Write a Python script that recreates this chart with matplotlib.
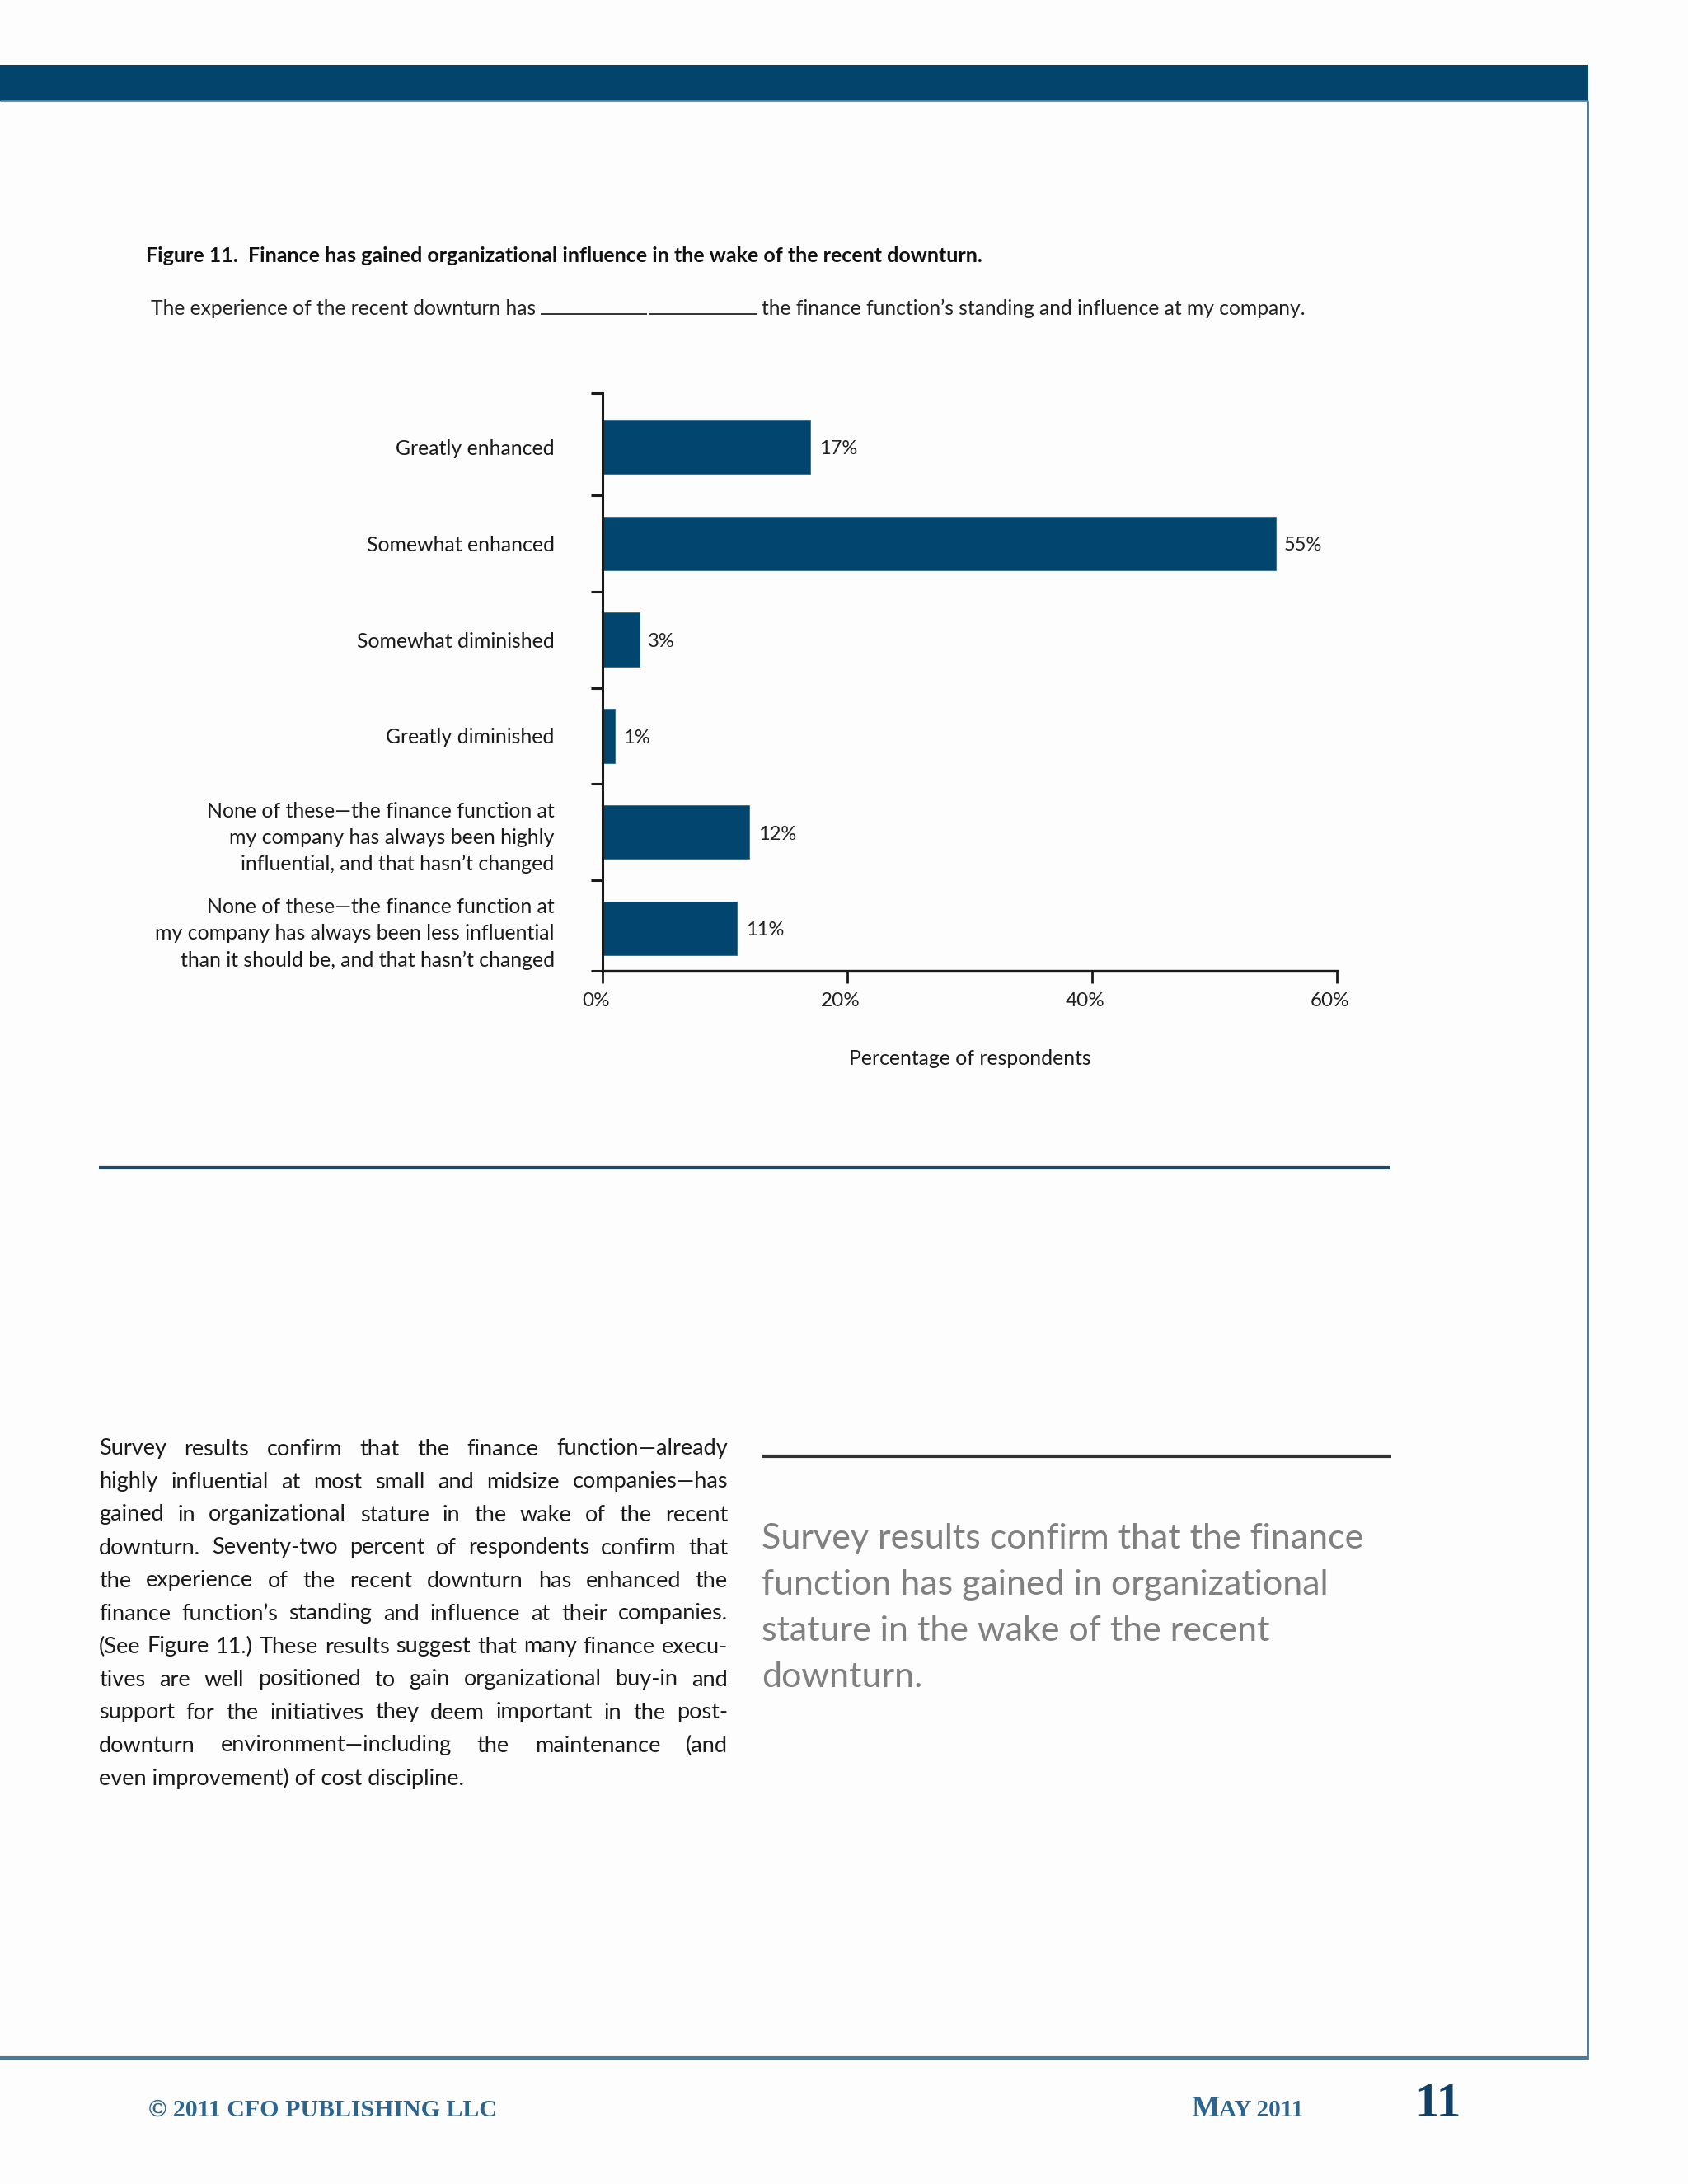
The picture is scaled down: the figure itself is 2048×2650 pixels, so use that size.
import matplotlib
matplotlib.use("Agg")
import matplotlib.pyplot as plt
from matplotlib.lines import Line2D
from matplotlib.transforms import ScaledTranslation

# Data
categories = [
    "Greatly enhanced",
    "Somewhat enhanced",
    "Somewhat diminished",
    "Greatly diminished",
    "None of these\u2014the finance function at\nmy company has always been highly\ninfluential, and that hasn\u2019t changed",
    "None of these\u2014the finance function at\nmy company has always been less influential\nthan it should be, and that hasn\u2019t changed",
]
values = [17, 55, 3, 1, 12, 11]
x_ticks = [0, 20, 40, 60]
x_tick_labels = ["0%", "20%", "40%", "60%"]

title = "Figure 11.  Finance has gained organizational influence in the wake of the recent downturn."
prompt_left = "The experience of the recent downturn has"
prompt_right = "the finance function\u2019s standing and influence at my company."
x_label = "Percentage of respondents"

body_lines = [
    "Survey results confirm that the finance function\u2014already",
    "highly influential at most small and midsize companies\u2014has",
    "gained in organizational stature in the wake of the recent",
    "downturn. Seventy-two percent of respondents confirm that",
    "the experience of the recent downturn has enhanced the",
    "finance function\u2019s standing and influence at their companies.",
    "(See Figure 11.) These results suggest that many finance execu-",
    "tives are well positioned to gain organizational buy-in and",
    "support for the initiatives they deem important in the post-",
    "downturn environment\u2014including the maintenance (and",
    "even improvement) of cost discipline.",
]
quote_lines = [
    "Survey results confirm that the finance",
    "function has gained in organizational",
    "stature in the wake of the recent",
    "downturn.",
]
footer_left = "\u00a9 2011 CFO PUBLISHING LLC"
footer_date = "MAY 2011"
page_no = "11"

W, H = 2048, 2650
BAR = "#02456e"
NAVY = "#02446b"
FOOT = "#2b6590"

plt.rcParams["font.family"] = ["Lato", "DejaVu Sans"]

fig = plt.figure(figsize=(W / 100, H / 100), dpi=100)
fig.patch.set_facecolor("#fdfdfd")
renderer = fig.canvas.get_renderer()


def fx(x):
    return x / W


def fy(y):
    return 1 - y / H


def hline(x0, x1, y, lw, color):
    fig.add_artist(Line2D([fx(x0), fx(x1)], [fy(y), fy(y)], lw=lw, color=color,
                          transform=fig.transFigure, solid_capstyle="butt"))


def vline(x, y0, y1, lw, color):
    fig.add_artist(Line2D([fx(x), fx(x)], [fy(y0), fy(y1)], lw=lw, color=color,
                          transform=fig.transFigure, solid_capstyle="butt"))


# page frame
fig.add_artist(plt.Rectangle((0, fy(123)), fx(1927), 44 / H, transform=fig.transFigure,
                             color=NAVY, lw=0))
hline(0, 1927, 122, 2.0, "#4f86ad")
vline(1926, 123, 2499, 2.0, "#3f78a0")
hline(0, 1927, 2497, 3.0, "#4a7a9e")

# titles
fig.text(fx(177), fy(310), title, fontsize=18, fontweight="bold", va="center", color="#111111")
fig.text(fx(650), fy(374), prompt_left, fontsize=17.7, ha="right", va="center", color="#222222")
fig.text(fx(924), fy(374), prompt_right, fontsize=17.7, ha="left", va="center", color="#222222")
hline(656, 785, 381, 1.3, "#222222")
hline(788, 918, 381, 1.3, "#222222")

# chart
ax = fig.add_axes([fx(731), fy(1178), (1622 - 731) / W, (1178 - 477) / H])
ax.set_facecolor("none")
pos = list(range(len(categories)))
ax.barh(pos, values, height=0.56, color=BAR, edgecolor="#2f6a93", linewidth=0.6)
for p, v in zip(pos, values):
    ax.text(v + 0.7, p + 0.02, f"{v}%", va="center", ha="left", fontsize=17, color="#222222")

ax.set_xlim(0, 60)
ax.set_ylim(len(categories) - 0.56, -0.56)
ax.set_xticks(x_ticks)
ax.set_xticklabels(x_tick_labels, fontsize=17.5, color="#222222")
ax.set_yticks(pos)
ax.set_yticklabels(categories, fontsize=17.9, color="#1a1a1a", linespacing=1.47)
ax.set_yticks([-0.56] + [p + 0.5 for p in pos[:-1]] + [len(categories) - 0.56], minor=True)
ax.tick_params(axis="y", which="major", length=0, pad=42)
ax.tick_params(axis="y", which="minor", length=10, width=2.2, color="#1a1a1a")
ax.tick_params(axis="x", which="major", length=11, width=2.0, color="#1a1a1a", pad=8)
for lbl in ax.get_xticklabels():
    lbl.set_transform(lbl.get_transform() + ScaledTranslation(-0.08, 0, fig.dpi_scale_trans))
for s in ["top", "right"]:
    ax.spines[s].set_visible(False)
ax.spines["left"].set_linewidth(2.2)
ax.spines["bottom"].set_linewidth(2.4)
ax.spines["left"].set_color("#1a1a1a")
ax.spines["bottom"].set_color("#1a1a1a")
ax.set_xlabel(x_label, fontsize=17.8, labelpad=34, color="#1a1a1a")

# divider
hline(120, 1687, 1417, 3.0, "#1f4766")


def justified(lines, x0, x1, y0, step, size, color):
    for i, line in enumerate(lines):
        y = fy(y0 + i * step)
        if i == len(lines) - 1:
            fig.text(fx(x0), y, line, fontsize=size, va="center", color=color)
            continue
        words = line.split(" ")
        fs = size
        while True:
            texts = [fig.text(0, y, w, fontsize=fs, va="center", color=color) for w in words]
            widths = [t.get_window_extent(renderer).width for t in texts]
            gap = (x1 - x0 - sum(widths)) / max(len(words) - 1, 1)
            if gap >= 0.22 * fs or fs < size * 0.85:
                break
            for t in texts:
                t.remove()
            fs -= 0.25
        x = x0
        for t, wd in zip(texts, widths):
            t.set_x(fx(x))
            x += wd + gap


justified(body_lines, 120, 883, 1758, 40, 19.5, "#1a1a1a")

# pull quote
hline(924, 1688, 1767, 3.0, "#333333")
for i, line in enumerate(quote_lines):
    fig.text(fx(924), fy(1867 + i * 56), line, fontsize=31, va="center", color="#808080")

# footer
fig.text(fx(180), fy(2568), footer_left, fontsize=21.5, family="Liberation Serif",
         fontweight="bold", va="baseline", color=FOOT)
m = fig.text(fx(1445), fy(2568), footer_date[0], fontsize=26, family="Liberation Serif",
             fontweight="bold", va="baseline", color=FOOT)
mw = m.get_window_extent(renderer).width
fig.text(fx(1445 + mw), fy(2568), footer_date[1:], fontsize=21, family="Liberation Serif",
         fontweight="bold", va="baseline", color=FOOT)
fig.text(fx(1716), fy(2568), page_no, fontsize=43, family="Liberation Serif",
         fontweight="bold", va="baseline", color="#123f66")

fig.savefig("out.png", dpi=100, facecolor=fig.get_facecolor())
